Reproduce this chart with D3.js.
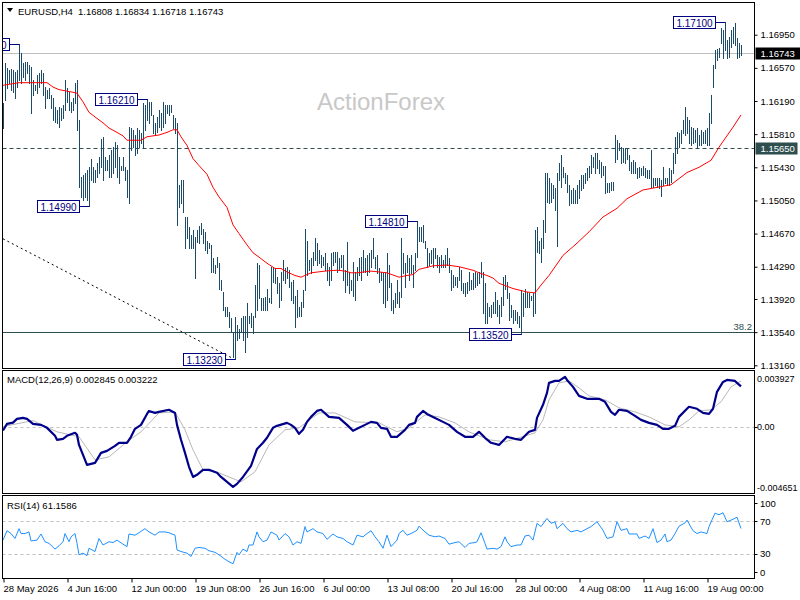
<!DOCTYPE html>
<html>
<head>
<meta charset="utf-8">
<script src="https://cdn.jsdelivr.net/npm/d3@7"></script>
<style>
body { margin: 0; background: #fff; }
svg text { font-family: "Liberation Sans", Arial, sans-serif; }
</style>
</head>
<body>
<svg id="chart" width="800" height="600"></svg>
<script>
// EURUSD H4 bars (bar 0 = 28 May 08:00)
const barHigh = [
  1.1617,1.1662,1.1657,1.1654,1.1656,1.1654,1.1652,1.1654,1.1684,1.1674,
  1.1662,1.1664,1.1664,1.1660,1.1658,1.1643,1.1637,1.1649,1.1651,1.1654,
  1.1651,1.1635,1.1632,1.1634,1.1626,1.1622,1.1612,1.1609,1.1612,1.1611,
  1.1614,1.1643,1.1634,1.1629,1.1618,1.1623,1.1640,1.1643,1.1597,1.1532,
  1.1534,1.1536,1.1540,1.1543,1.1553,1.1543,1.1540,1.1548,1.1555,1.1576,
  1.1578,1.1555,1.1551,1.1557,1.1563,1.1566,1.1572,1.1568,1.1555,1.1545,
  1.1555,1.1543,1.1540,1.1589,1.1588,1.1586,1.1580,1.1588,1.1586,1.1582,
  1.1617,1.1614,1.1621,1.1618,1.1618,1.1603,1.1594,1.1601,1.1609,1.1605,
  1.1618,1.1614,1.1614,1.1614,1.1614,1.1603,1.1599,1.1594,1.1523,1.1528,
  1.1528,1.1486,1.1486,1.1474,1.1465,1.1471,1.1463,1.1471,1.1476,1.1479,
  1.1472,1.1469,1.1459,1.1456,1.1454,1.1439,1.1431,1.1440,1.1433,1.1414,
  1.1400,1.1383,1.1383,1.1377,1.1370,1.1354,1.1371,1.1362,1.1358,1.1370,
  1.1372,1.1373,1.1387,1.1373,1.1376,1.1373,1.1408,1.1433,1.1431,1.1393,
  1.1393,1.1394,1.1404,1.1393,1.1429,1.1429,1.1427,1.1417,1.1410,1.1423,
  1.1437,1.1427,1.1429,1.1425,1.1411,1.1414,1.1396,1.1402,1.1383,1.1388,
  1.1402,1.1472,1.1459,1.1437,1.1439,1.1446,1.1462,1.1456,1.1448,1.1442,
  1.1440,1.1445,1.1433,1.1429,1.1445,1.1446,1.1446,1.1446,1.1439,1.1442,
  1.1442,1.1425,1.1457,1.1423,1.1414,1.1434,1.1423,1.1429,1.1439,1.1440,
  1.1448,1.1439,1.1442,1.1445,1.1448,1.1462,1.1440,1.1442,1.1427,1.1423,
  1.1422,1.1423,1.1445,1.1431,1.1410,1.1391,1.1399,1.1414,1.1400,1.1462,
  1.1445,1.1433,1.1442,1.1439,1.1442,1.1431,1.1445,1.1481,1.1474,1.1474,
  1.1477,1.1459,1.1450,1.1445,1.1448,1.1451,1.1450,1.1442,1.1440,1.1442,
  1.1437,1.1442,1.1450,1.1439,1.1425,1.1419,1.1417,1.1417,1.1429,1.1425,
  1.1410,1.1410,1.1411,1.1423,1.1414,1.1422,1.1423,1.1422,1.1423,1.1434,
  1.1423,1.1410,1.1387,1.1383,1.1385,1.1388,1.1400,1.1391,1.1385,1.1394,
  1.1417,1.1419,1.1411,1.1399,1.1385,1.1379,1.1379,1.1377,1.1373,1.1402,
  1.1399,1.1404,1.1400,1.1399,1.1396,1.1399,1.1471,1.1474,1.1459,1.1462,
  1.1482,1.1536,1.1536,1.1531,1.1525,1.1523,1.1519,1.1536,1.1548,1.1557,
  1.1543,1.1537,1.1534,1.1523,1.1517,1.1519,1.1517,1.1523,1.1528,1.1534,
  1.1534,1.1537,1.1542,1.1545,1.1557,1.1555,1.1559,1.1559,1.1551,1.1549,
  1.1545,1.1545,1.1525,1.1525,1.1526,1.1526,1.1580,1.1574,1.1571,1.1566,
  1.1565,1.1565,1.1565,1.1557,1.1549,1.1551,1.1549,1.1542,1.1543,1.1542,
  1.1545,1.1542,1.1540,1.1540,1.1563,1.1531,1.1531,1.1531,1.1531,1.1528,
  1.1543,1.1531,1.1531,1.1542,1.1540,1.1559,1.1578,1.1583,1.1582,1.1586,
  1.1597,1.1612,1.1601,1.1597,1.1589,1.1588,1.1586,1.1588,1.1580,1.1586,
  1.1583,1.1586,1.1588,1.1605,1.1626,1.1660,1.1677,1.1679,1.1680,1.1703,
  1.1700,1.1710,1.1689,1.1692,1.1700,1.1704,1.1708,1.1691,1.1685,1.16834
];
const barLow = [
  1.1588,1.1620,1.1634,1.1640,1.1632,1.1629,1.1622,1.1635,1.1643,1.1640,
  1.1646,1.1643,1.1651,1.1640,1.1605,1.1626,1.1632,1.1628,1.1635,1.1640,
  1.1626,1.1611,1.1623,1.1622,1.1611,1.1597,1.1595,1.1594,1.1589,1.1597,
  1.1599,1.1609,1.1618,1.1609,1.1606,1.1609,1.1617,1.1586,1.1520,1.1509,
  1.1505,1.1509,1.1505,1.1499,1.1528,1.1526,1.1526,1.1532,1.1536,1.1543,
  1.1528,1.1540,1.1540,1.1532,1.1532,1.1536,1.1543,1.1532,1.1525,1.1540,
  1.1540,1.1528,1.1509,1.1502,1.1563,1.1566,1.1557,1.1559,1.1566,1.1571,
  1.1565,1.1586,1.1597,1.1594,1.1603,1.1582,1.1580,1.1583,1.1589,1.1586,
  1.1589,1.1594,1.1605,1.1603,1.1606,1.1588,1.1582,1.1477,1.1497,1.1502,
  1.1492,1.1451,1.1462,1.1450,1.1451,1.1450,1.1416,1.1457,1.1456,1.1467,
  1.1456,1.1448,1.1445,1.1450,1.1423,1.1423,1.1422,1.1429,1.1404,1.1402,
  1.1379,1.1373,1.1373,1.1360,1.1354,1.1325,1.1323,1.1345,1.1347,1.1354,
  1.1345,1.1331,1.1348,1.1364,1.1360,1.1353,1.1371,1.1379,1.1393,1.1379,
  1.1379,1.1379,1.1379,1.1388,1.1387,1.1411,1.1410,1.1399,1.1383,1.1391,
  1.1414,1.1410,1.1416,1.1406,1.1391,1.1387,1.1360,1.1371,1.1373,1.1373,
  1.1383,1.1402,1.1419,1.1425,1.1422,1.1431,1.1437,1.1431,1.1433,1.1429,
  1.1431,1.1425,1.1414,1.1408,1.1414,1.1431,1.1434,1.1423,1.1425,1.1429,
  1.1414,1.1400,1.1408,1.1399,1.1402,1.1396,1.1391,1.1414,1.1419,1.1414,
  1.1423,1.1423,1.1419,1.1423,1.1429,1.1439,1.1427,1.1422,1.1411,1.1414,
  1.1387,1.1383,1.1391,1.1406,1.1379,1.1376,1.1383,1.1387,1.1383,1.1394,
  1.1422,1.1406,1.1423,1.1414,1.1422,1.1406,1.1425,1.1440,1.1459,1.1459,
  1.1457,1.1451,1.1429,1.1431,1.1433,1.1429,1.1439,1.1429,1.1423,1.1429,
  1.1429,1.1429,1.1431,1.1423,1.1402,1.1406,1.1408,1.1406,1.1414,1.1402,
  1.1399,1.1396,1.1399,1.1402,1.1404,1.1404,1.1406,1.1408,1.1410,1.1417,
  1.1376,1.1365,1.1364,1.1373,1.1371,1.1376,1.1376,1.1373,1.1365,1.1373,
  1.1385,1.1404,1.1393,1.1368,1.1371,1.1365,1.1368,1.1364,1.1360,1.1352,
  1.1373,1.1383,1.1383,1.1383,1.1391,1.1373,1.1376,1.1446,1.1445,1.1434,
  1.1451,1.1469,1.1503,1.1502,1.1503,1.1508,1.1494,1.1453,1.1528,1.1520,
  1.1532,1.1525,1.1515,1.1500,1.1502,1.1502,1.1502,1.1502,1.1508,1.1517,
  1.1519,1.1525,1.1528,1.1532,1.1536,1.1543,1.1537,1.1542,1.1537,1.1532,
  1.1534,1.1513,1.1515,1.1515,1.1517,1.1517,1.1549,1.1553,1.1563,1.1548,
  1.1549,1.1548,1.1553,1.1540,1.1537,1.1537,1.1536,1.1531,1.1532,1.1534,
  1.1534,1.1532,1.1531,1.1531,1.1520,1.1520,1.1523,1.1520,1.1519,1.1510,
  1.1523,1.1525,1.1523,1.1523,1.1526,1.1537,1.1548,1.1559,1.1566,1.1571,
  1.1582,1.1580,1.1582,1.1571,1.1568,1.1571,1.1572,1.1566,1.1568,1.1568,
  1.1571,1.1571,1.1568,1.1568,1.1594,1.1635,1.1657,1.1666,1.1669,1.1685,
  1.1668,1.1677,1.1668,1.1669,1.1681,1.1685,1.1683,1.1668,1.1669,1.16718
];

// moving average (red), [bar, price]
const maPoints = [
  [0,1.1637],[8,1.1640],[18,1.1640],[22,1.1640],[25,1.1635],[28,1.1632],[35,1.1629],[37,1.1628],
  [40,1.1618],[43,1.1606],[47,1.1599],[50,1.1594],[53,1.1588],[57,1.1583],[60,1.1579],[62,1.1574],
  [69,1.1574],[72,1.1578],[78,1.1580],[82,1.1583],[85,1.1586],[87,1.1586],[89,1.1578],[92,1.1568],
  [95,1.1553],[98,1.1545],[102,1.1535],[105,1.1520],[108,1.1509],[112,1.1497],[115,1.1477],[118,1.1467],
  [122,1.1454],[125,1.1445],[128,1.1440],[132,1.1433],[136,1.1427],[139,1.1427],[142,1.1423],[146,1.1419],
  [149,1.1417],[151,1.1419],[154,1.1422],[161,1.1424],[167,1.1425],[171,1.1424],[174,1.1422],[177,1.1422],
  [184,1.1424],[188,1.1423],[192,1.1422],[198,1.1417],[202,1.1419],[205,1.1420],[208,1.1426],[215,1.1430],
  [222,1.1431],[228,1.1429],[235,1.1425],[238,1.1422],[242,1.1419],[245,1.1416],[248,1.1410],[255,1.1404],
  [262,1.1400],[266,1.1399],[269,1.1408],[273,1.1419],[280,1.1442],[287,1.1456],[293,1.1469],[300,1.1486],
  [307,1.1496],[312,1.1507],[320,1.1517],[327,1.1520],[334,1.1523],[342,1.1537],[348,1.1543],[354,1.1551],
  [358,1.1566],[365,1.1589],[369,1.1603]
];

// MACD(12,26,9) main line and signal, [bar, value]
const macdPoints = [
  [0,-0.00026],[2,0.00021],[5,0.00030],[7,0.00056],[10,0.00063],[12,0.00056],[15,0.00021],[19,0.00014],
  [22,-0.00007],[26,-0.00063],[27,-0.00091],[30,-0.00084],[32,-0.00063],[36,-0.00042],[37,-0.00056],[38,-0.00127],
  [40,-0.00197],[42,-0.00267],[46,-0.00253],[49,-0.00183],[52,-0.00169],[56,-0.00134],[58,-0.00112],[62,-0.00112],
  [64,-0.00070],[66,-0.00014],[69,0.00014],[72,0.00091],[73,0.00112],[76,0.00098],[78,0.00105],[83,0.00120],
  [86,0.00098],[87,0.00014],[89,-0.00091],[91,-0.00183],[93,-0.00281],[95,-0.00352],[97,-0.00337],[100,-0.00302],
  [103,-0.00302],[107,-0.00323],[109,-0.00352],[112,-0.00387],[115,-0.00422],[117,-0.00401],[120,-0.00352],[124,-0.00274],
  [127,-0.00155],[130,-0.00112],[132,-0.00077],[135,-0.00007],[137,0.00007],[142,0.00028],[144,0.00014],[146,-0.00007],
  [148,-0.00049],[150,-0.00021],[152,0.00035],[154,0.00070],[157,0.00112],[159,0.00120],[163,0.00070],[168,0.00063],
  [172,0.00014],[175,-0.00028],[178,-0.00007],[181,0.00014],[184,0.00035],[187,0.00028],[189,-0.00007],[192,-0.00014],
  [194,-0.00070],[197,-0.00070],[201,-0.00021],[203,0.00014],[206,0.00028],[207,0.00070],[210,0.00112],[212,0.00091],
  [215,0.00070],[220,0.00035],[223,0.00014],[227,-0.00035],[231,-0.00070],[235,-0.00070],[238,-0.00035],[241,-0.00077],
  [244,-0.00112],[248,-0.00127],[252,-0.00070],[256,-0.00084],[259,-0.00091],[263,-0.00035],[266,-0.00021],[267,0.00063],
  [270,0.00155],[272,0.00239],[273,0.00309],[276,0.00323],[278,0.00323],[281,0.00352],[282,0.00330],[285,0.00281],
  [288,0.00218],[292,0.00197],[298,0.00197],[301,0.00176],[304,0.00105],[306,0.00084],[308,0.00120],[312,0.00112],
  [316,0.00077],[319,0.00049],[323,0.00028],[327,0.00014],[330,-0.00014],[333,-0.00014],[336,0.00007],[338,0.00070],
  [342,0.00127],[343,0.00141],[347,0.00127],[350,0.00098],[353,0.00091],[355,0.00127],[357,0.00246],[360,0.00316],
  [362,0.00330],[366,0.00323],[367,0.00309],[369,0.002845]
];
const signalPoints = [
  [0,0.00002],[15,0.00044],[27,-0.00035],[38,-0.00070],[46,-0.00232],[53,-0.00211],[62,-0.00105],[69,-0.00035],
  [78,0.00098],[86,0.00105],[91,-0.00021],[95,-0.00162],[100,-0.00302],[108,-0.00323],[119,-0.00387],[126,-0.00316],
  [133,-0.00127],[141,-0.00021],[148,-0.00007],[158,0.00098],[166,0.00098],[176,0.00035],[188,0.00028],[197,-0.00035],
  [203,-0.00007],[211,0.00084],[218,0.00070],[226,0.00028],[233,-0.00035],[243,-0.00091],[251,-0.00105],[258,-0.00077],
  [266,-0.00042],[270,0.00049],[273,0.00190],[278,0.00309],[283,0.00323],[288,0.00274],[293,0.00218],[301,0.00190],
  [308,0.00134],[316,0.00105],[323,0.00070],[331,0.00014],[338,0.00000],[343,0.00049],[348,0.00112],[354,0.00120],
  [359,0.00176],[364,0.00281],[369,0.003222]
];

// RSI(14), [bar, value]
const rsiPoints = [
  [0,47],[2,58.5],[4,55],[6,49],[8,61],[9,55],[11,55],[13,57],[14,46],[17,47],[19,54.5],[21,45],[23,43],
  [26,36],[28,40],[30,45],[31,55],[33,45],[34,51],[36,55],[37,43],[38,29],[40,31],[42,28],[43,37],[46,33],
  [48,49],[50,41],[53,45],[55,44],[57,47],[60,42],[62,39],[63,54.5],[66,53],[68,56],[71,61],[73,57],[76,53],
  [78,57],[81,57],[83,56],[86,53],[87,35],[89,33],[92,31],[94,27],[96,37],[98,38],[101,37],[103,34],[106,32],
  [108,29],[111,23.5],[113,20.5],[115,18],[117,32],[118,29],[120,36],[122,33],[123,41],[125,41],[127,57],
  [128,51],[130,45],[132,47],[134,57],[137,53],[138,47],[141,55],[143,51],[145,41],[147,45],[149,43],[151,63.5],
  [152,57],[155,61],[157,57],[160,55],[162,48],[165,54.5],[167,51],[170,49],[172,45],[175,41],[177,53],[180,51],
  [182,55],[184,58.5],[186,51],[188,45],[190,37],[192,53],[194,39],[197,47],[198,55],[200,59],[202,53],[204,55],
  [207,59],[208,64],[211,57],[213,53],[216,51],[218,52],[221,49],[223,42],[226,44],[228,45],[231,38],[233,43],
  [236,44],[237,45],[239,56],[241,43],[242,36],[245,37],[247,36],[249,39],[251,51],[252,45],[254,39],[257,41],
  [259,41],[261,52],[263,53],[265,47],[267,67.5],[269,63.5],[272,73.5],[274,67.5],[276,69.5],[277,61],[280,67.5],
  [282,61],[284,57],[287,59],[289,57],[292,61],[294,63.5],[297,69.5],[300,59],[302,49],[305,51],[307,69.5],
  [309,59],[312,61],[313,54.5],[317,54.5],[318,49],[321,52],[323,49],[325,61],[327,44],[329,47],[331,54.5],
  [332,45],[334,47],[336,55],[338,64],[341,68],[342,71.5],[345,58.5],[347,55],[349,57],[352,55],[353,63.5],
  [356,80],[358,78],[360,80.5],[362,69.5],[365,72.5],[367,75],[369,61.1586]
];

const priceTicks = [1.13160,1.13540,1.13920,1.14290,1.14670,1.15050,1.15430,1.15810,1.16190,1.16570,1.16950];
const timeTickBars = [0,32,64,96,128,160,192,224,256,288,320,352];
const timeLabels = ["28 May 2026","4 Jun 16:00","12 Jun 00:00","19 Jun 08:00","26 Jun 16:00","6 Jul 00:00",
  "13 Jul 08:00","20 Jul 16:00","28 Jul 00:00","4 Aug 08:00","11 Aug 16:00","19 Aug 00:00"];

const swingBars = [8,72,43,116,207,259,361];
const swingPrices = [1.1684,1.1621,1.1499,1.1323,1.1481,1.1352,1.1710];

const ohlc = [1.16808,1.16834,1.16718,1.16743];
const levelPrice = 1.15650;
const fibPrice = 1.13540;
const fibText = "38.2";
const trendBars = [0,114];
const trendPrices = [1.1461,1.1325];
const macdNow = [0.002845,0.003222];
const macdRange = [-0.004651,0.003927];
const macdTickText = ["-0.004651","0.00","0.003927"];
const rsiNow = 61.1586;
const rsiLevels = [30,70];
const rsiTicks = [100,70,30,0];

const svg = d3.select("#chart");
const left = 2.5, right = 754.5;

const x = d3.scaleLinear().domain([0, 369]).range([3, 741]);
const y = d3.scaleLinear().domain([1.13160, 1.16950]).range([365.3, 34.7]);
const yMacd = d3.scaleLinear().domain(macdRange).range([493, 371]);
const yRsi = d3.scaleLinear().domain([0, 100]).range([578.5, 496.8]);
const px = i => Math.round(x(i)) + 0.5;
const py = p => Math.round(y(p)) + 0.5;

// clip paths for the three panes
const defs = svg.append("defs");
[["clipMain", 2.5, 366], ["clipMacd", 370.5, 123], ["clipRsi", 495.5, 83]].forEach(c => {
    defs.append("clipPath").attr("id", c[0]).append("rect")
        .attr("x", left).attr("y", c[1]).attr("width", right - left).attr("height", c[2]);
});

// ---------- main pane ----------
const main = svg.append("g").attr("clip-path", "url(#clipMain)");

main.append("text")
    .attr("x", 381).attr("y", 110)
    .attr("text-anchor", "middle")
    .attr("font-size", 24)
    .attr("fill", "#c8c8c8")
    .text("ActionForex");

main.append("line")
    .attr("x1", left).attr("x2", right)
    .attr("y1", py(levelPrice)).attr("y2", py(levelPrice))
    .attr("stroke", "#2f4f4f").attr("stroke-dasharray", "4,3");

main.append("line")
    .attr("x1", left).attr("x2", right)
    .attr("y1", py(fibPrice)).attr("y2", py(fibPrice))
    .attr("stroke", "#2f4f4f");

main.append("text")
    .attr("x", 752).attr("y", py(fibPrice) - 3)
    .attr("text-anchor", "end").attr("font-size", 9.5)
    .attr("fill", "#2f4f4f")
    .text(fibText);

main.append("line")
    .attr("x1", x(trendBars[0])).attr("y1", y(trendPrices[0]))
    .attr("x2", x(trendBars[1])).attr("y2", y(trendPrices[1]))
    .attr("stroke", "#000").attr("stroke-dasharray", "2,3");

main.append("line")
    .attr("x1", left).attr("x2", right)
    .attr("y1", py(ohlc[3])).attr("y2", py(ohlc[3]))
    .attr("stroke", "#c0c0c0");

main.selectAll("line.bar")
    .data(barHigh.map((h, i) => ({ i: i, h: h, l: barLow[i] })))
    .enter()
    .append("line")
    .attr("class", "bar")
    .attr("x1", d => px(d.i)).attr("x2", d => px(d.i))
    .attr("y1", d => Math.round(y(d.h)))
    .attr("y2", d => Math.round(y(d.l)) + 1)
    .attr("stroke", "#1b4b69")
    .attr("shape-rendering", "crispEdges");

const priceLine = d3.line().x(d => x(d[0])).y(d => y(d[1]));
main.append("path")
    .attr("d", priceLine(maPoints))
    .attr("fill", "none").attr("stroke", "#ff0000").attr("stroke-width", 1);

// swing high / low markers (the first one runs off the left edge, as in the terminal)
swingBars.forEach((b, k) => {
    const bx = px(b), by = py(swingPrices[k]);
    main.append("line")
        .attr("x1", bx - 10).attr("x2", bx)
        .attr("y1", by).attr("y2", by)
        .attr("stroke", "#000080");
    main.append("rect")
        .attr("x", bx - 52).attr("y", by - 6)
        .attr("width", 42).attr("height", 12)
        .attr("fill", "#fff").attr("stroke", "#000080");
    main.append("text")
        .attr("x", bx - 31).attr("y", by + 4)
        .attr("text-anchor", "middle").attr("font-size", 10)
        .attr("fill", "#000080")
        .text(d3.format(".5f")(swingPrices[k]));
});

// header
svg.append("path").attr("d", "M7,8 L13,8 L10,12 Z").attr("fill", "#000");
svg.append("text").attr("x", 18).attr("y", 15).attr("font-size", 9.5).text("EURUSD,H4");
svg.append("text").attr("x", 78).attr("y", 15).attr("font-size", 9.5)
    .text(ohlc.map(d3.format(".5f")).join(" "));

// ---------- MACD pane ----------
const macdG = svg.append("g").attr("clip-path", "url(#clipMacd)");
macdG.append("line")
    .attr("x1", left).attr("x2", right)
    .attr("y1", Math.round(yMacd(0)) + 0.5).attr("y2", Math.round(yMacd(0)) + 0.5)
    .attr("stroke", "#c0c0c0").attr("stroke-dasharray", "3,3");
const macdLine = d3.line().x(d => x(d[0])).y(d => yMacd(d[1]));
macdG.append("path").attr("d", macdLine(signalPoints))
    .attr("fill", "none").attr("stroke", "#b8b8b8").attr("stroke-width", 1);
macdG.append("path").attr("d", macdLine(macdPoints))
    .attr("fill", "none").attr("stroke", "#00008b").attr("stroke-width", 2.2)
    .attr("stroke-linejoin", "round");
svg.append("text").attr("x", 7).attr("y", 383).attr("font-size", 9.5)
    .text("MACD(12,26,9) " + d3.format(".6f")(macdNow[0]) + " " + d3.format(".6f")(macdNow[1]));

// ---------- RSI pane ----------
const rsiG = svg.append("g").attr("clip-path", "url(#clipRsi)");
rsiLevels.forEach(v => {
    rsiG.append("line")
        .attr("x1", left).attr("x2", right)
        .attr("y1", Math.round(yRsi(v)) + 0.5).attr("y2", Math.round(yRsi(v)) + 0.5)
        .attr("stroke", "#c0c0c0").attr("stroke-dasharray", "3,3");
});
const rsiLine = d3.line().x(d => x(d[0])).y(d => yRsi(d[1]));
rsiG.append("path").attr("d", rsiLine(rsiPoints))
    .attr("fill", "none").attr("stroke", "#1e90ff").attr("stroke-width", 1);
svg.append("text").attr("x", 7).attr("y", 509).attr("font-size", 9.5)
    .text("RSI(14) " + d3.format(".4f")(rsiNow));

// ---------- frames ----------
[[2.5, 366], [370.5, 123], [495.5, 83]].forEach(f => {
    svg.append("rect")
        .attr("x", left).attr("y", f[0])
        .attr("width", right - left).attr("height", f[1])
        .attr("fill", "none").attr("stroke", "#000");
});

// ---------- price axis ----------
const yAxis = svg.append("g")
    .attr("transform", "translate(" + right + ",0)")
    .call(d3.axisRight(y).tickValues(priceTicks).tickFormat(d3.format(".5f")).tickSize(3).tickSizeOuter(0));
yAxis.select(".domain").remove();
yAxis.selectAll("text").attr("font-size", 9.5).attr("font-family", "Liberation Sans, Arial, sans-serif").attr("fill", "#000");

function tag(price, bg, w) {
    const cy = py(price);
    svg.append("rect").attr("x", right + 1).attr("y", cy - 6).attr("width", w).attr("height", 12).attr("fill", bg);
    svg.append("text").attr("x", right + 6).attr("y", cy + 3.5)
        .attr("font-size", 9.5).attr("fill", "#fff")
        .text(d3.format(".5f")(price));
}
tag(ohlc[3], "#000", 46);
tag(levelPrice, "#2f4f4f", 42);

// MACD scale labels, held inside the pane
[macdRange[0], 0, macdRange[1]].forEach((v, k) => {
    const cy = Math.min(Math.max(yMacd(v), 378), 487);
    svg.append("text").attr("x", 757).attr("y", cy + 3.5).attr("font-size", 9).text(macdTickText[k]);
});
svg.append("line").attr("x1", right).attr("x2", right + 3)
    .attr("y1", Math.round(yMacd(0)) + 0.5).attr("y2", Math.round(yMacd(0)) + 0.5).attr("stroke", "#000");

// RSI scale labels
rsiTicks.forEach(v => {
    const cy = Math.min(Math.max(yRsi(v), 503), 572);
    svg.append("text").attr("x", 760).attr("y", cy + 3.5).attr("font-size", 9.5).text(v);
    svg.append("line").attr("x1", right).attr("x2", right + 3)
        .attr("y1", Math.round(cy) + 0.5).attr("y2", Math.round(cy) + 0.5).attr("stroke", "#000");
});

// ---------- time axis ----------
const xAxis = svg.append("g")
    .attr("transform", "translate(0,578.5)")
    .call(d3.axisBottom(x).tickValues(timeTickBars).tickFormat((d, i) => timeLabels[i]).tickSize(4).tickSizeOuter(0));
xAxis.select(".domain").remove();
xAxis.selectAll(".tick line").attr("transform", "translate(0.5,0)");
xAxis.selectAll("text")
    .attr("text-anchor", "start")
    .attr("font-size", 9.5)
    .attr("font-family", "Liberation Sans, Arial, sans-serif")
    .attr("fill", "#000");
</script>
</body>
</html>
